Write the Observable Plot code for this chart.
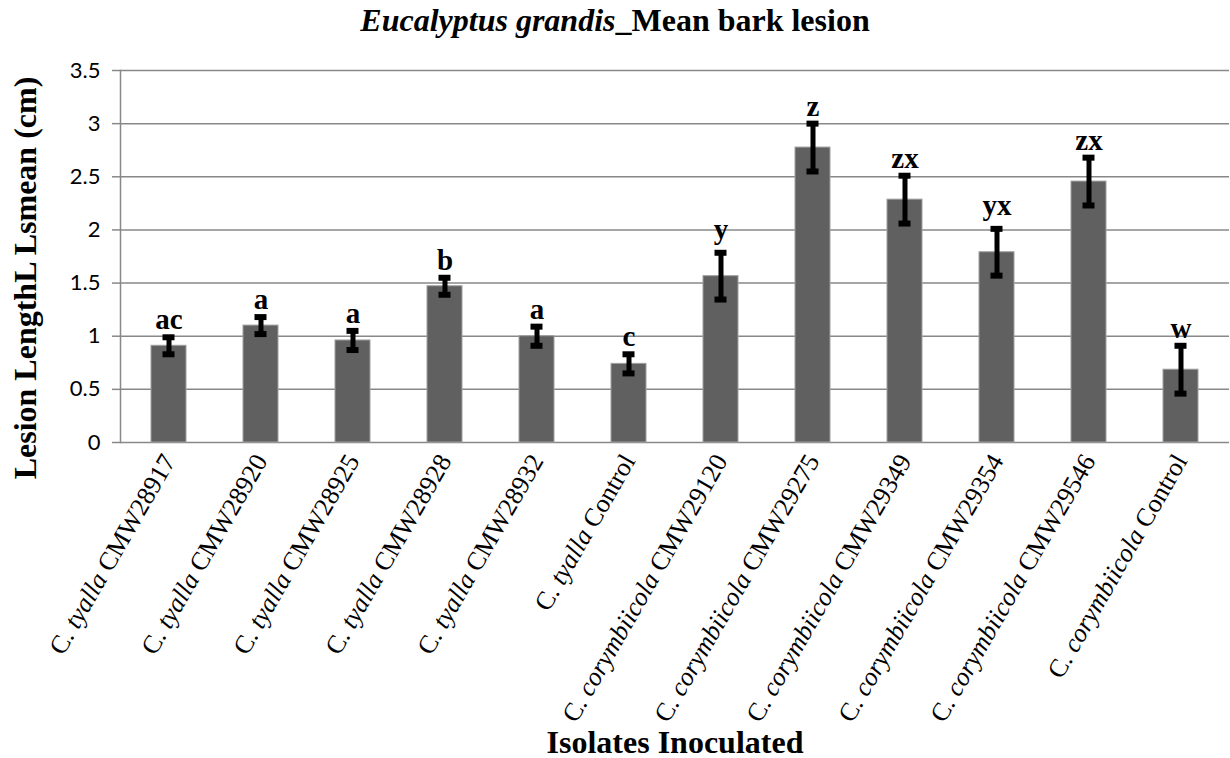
<!DOCTYPE html>
<html><head><meta charset="utf-8">
<script src="https://cdn.jsdelivr.net/npm/d3@7"></script>
<script src="https://cdn.jsdelivr.net/npm/@observablehq/plot@0.6"></script>
<style>
body{margin:0;background:#fff;width:1230px;height:758px;overflow:hidden;position:relative;}
#title{height:40px;line-height:40px;padding-top:2px;box-sizing:border-box;text-align:center;font:bold 32px "Liberation Serif","Times New Roman",serif;color:#000;white-space:nowrap}
#title i{font-style:italic}
#ytitle{position:absolute;left:25px;top:278px;transform:translate(-50%,-50%) rotate(-90deg);font:bold 32px "Liberation Serif","Times New Roman",serif;color:#000;white-space:nowrap;line-height:normal}
#chart svg{display:block}
</style></head><body>
<div id="title"><i>Eucalyptus grandis</i>_Mean bark lesion</div>
<div id="chart"></div>
<div id="ytitle"></div>
<script>
// ---- data ----
const genus = "C.";
const species = ["tyalla","tyalla","tyalla","tyalla","tyalla","tyalla",
  "corymbiicola","corymbiicola","corymbiicola","corymbiicola","corymbiicola","corymbiicola"];
const codes = ["CMW28917","CMW28920","CMW28925","CMW28928","CMW28932","Control",
  "CMW29120","CMW29275","CMW29349","CMW29354","CMW29546","Control"];
const means = [0.91, 1.10, 0.96, 1.47, 1.00, 0.74, 1.565, 2.775, 2.285, 1.79, 2.455, 0.685];
const errors = [0.08, 0.08, 0.09, 0.08, 0.09, 0.09, 0.22, 0.225, 0.225, 0.22, 0.225, 0.225];
const letters = ["ac","a","a","b","a","c","y","z","zx","yx","zx","w"];
const yTicks = [0, 0.5, 1, 1.5, 2, 2.5, 3, 3.5];
const xTitle = "Isolates Inoculated";
const yTitle = "Lesion LengthL Lsmean (cm)";

const labels = species.map((s, i) => `${genus} ${s} ${codes[i]}`);
const data = labels.map((label, i) => ({
  label, species: species[i], code: codes[i], mean: means[i],
  lo: means[i] - errors[i], hi: means[i] + errors[i], letter: letters[i]
}));
const serif = '"Liberation Serif","Times New Roman",serif';
const hasDescender = d => /[gjpqy]/.test(d.letter);

const chart = Plot.plot({
  width: 1230, height: 718,
  marginTop: 30, marginBottom: 316, marginLeft: 120, marginRight: 1,
  style: {background: "#fff", color: "#000", fontFamily: serif, overflow: "visible"},
  x: {domain: labels, paddingInner: 0.62, paddingOuter: 0.31, axis: null},
  y: {domain: [0, 3.5], axis: null},
  marks: [
    Plot.gridY(yTicks, {stroke: "#888", strokeOpacity: 1, strokeWidth: 1.5}),
    Plot.frame({anchor: "left", stroke: "#888", strokeWidth: 1.5}),
    Plot.axisY({ticks: yTicks, tickSize: 8, tickPadding: 12, stroke: "#888", strokeWidth: 1.5,
      fill: "#000", tickFormat: d => String(d), fontSize: 22, fontFamily: "Lato", label: null}),
    Plot.barY(data, {x: "label", y: "mean", fill: "#606060", stroke: "#a0a0a0", strokeWidth: 1}),
    Plot.ruleX(data, {x: "label", y1: "lo", y2: "hi", stroke: "#000", strokeWidth: 5}),
    Plot.tickY(data, {x: "label", y: "hi", stroke: "#000", strokeWidth: 6, insetLeft: 11.5, insetRight: 11.5}),
    Plot.tickY(data, {x: "label", y: "lo", stroke: "#000", strokeWidth: 6, insetLeft: 11.5, insetRight: 11.5}),
    Plot.text(data, {filter: d => !hasDescender(d), x: "label", y: "hi", text: "letter", dy: -8,
      lineAnchor: "bottom", fontSize: 29, fontWeight: "bold", fontFamily: serif, fill: "#000"}),
    Plot.text(data, {filter: hasDescender, x: "label", y: "hi", text: "letter", dy: -14,
      lineAnchor: "bottom", fontSize: 29, fontWeight: "bold", fontFamily: serif, fill: "#000"}),
    Plot.text(data, {x: "label", text: "label", frameAnchor: "bottom", dy: 14, rotate: -60,
      textAnchor: "end", lineAnchor: "middle", fontSize: 26, fontFamily: serif, fill: "#000"}),
    Plot.text([xTitle], {text: d => d, frameAnchor: "bottom", dy: 310, lineAnchor: "bottom",
      fontSize: 32, fontWeight: "bold", fontFamily: serif, fill: "#000"})
  ]
});

// italicise the species name inside each x tick label
const NS = "http://www.w3.org/2000/svg";
const byLabel = new Map(data.map(d => [d.label, d]));
chart.querySelectorAll("text").forEach(t => {
  const d = byLabel.get(t.textContent);
  if (!d) return;
  while (t.firstChild) t.removeChild(t.firstChild);
  const a = document.createElementNS(NS, "tspan"); a.textContent = genus + " ";
  const b = document.createElementNS(NS, "tspan"); b.textContent = d.species; b.setAttribute("font-style", "italic");
  const c = document.createElementNS(NS, "tspan"); c.textContent = " " + d.code;
  t.append(a, b, c);
});
document.getElementById("chart").append(chart);
document.getElementById("ytitle").textContent = yTitle;
</script>
</body></html>
